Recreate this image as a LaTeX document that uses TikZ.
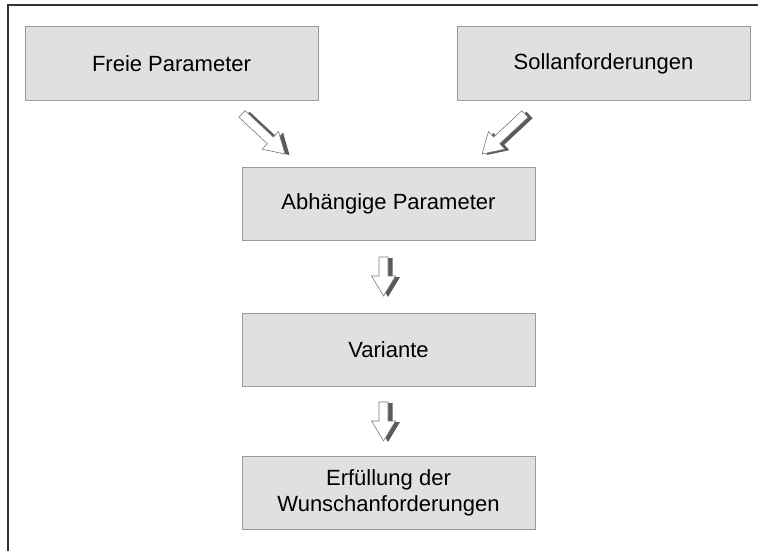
\documentclass[tikz,border=0pt]{standalone}
\usepackage{fontspec}
\setmainfont{Liberation Sans}
\usetikzlibrary{calc}
\definecolor{boxfill}{HTML}{E0E0E0}
\definecolor{boxline}{HTML}{9A9A9A}
\definecolor{frameline}{HTML}{333333}
\definecolor{arrowdark}{HTML}{5A5A5A}
\definecolor{arrowline}{HTML}{7A7A7A}
\tikzset{
  box/.style={draw=boxline, line width=1pt, fill=boxfill, minimum width=293pt, minimum height=73pt,
    inner sep=0pt, align=center, font=\fontsize{22}{26.5}\selectfont},
  pics/blockarrow/.style 2 args={code={
    \path[#2] (0,4.5) -- (#1-20,4.5) -- (#1-20,12) -- (#1,0) -- (#1-20,-12) -- (#1-20,-4.5) -- (0,-4.5) -- cycle;
  }},
}
\newcommand\bigarrow[2]{%
  \path let \p1=($(#2)-(#1)$), \n1={atan2(\y1,\x1)}, \n2={veclen(\x1,\y1)} in
    pic[rotate=\n1] at ($(#1)+(4.5pt,-1pt)$) {blockarrow={\n2}{fill=arrowdark}}
    pic[rotate=\n1] at (#1) {blockarrow={\n2}{fill=white, draw=arrowline, line width=0.6pt}};
}
\begin{document}
\begin{tikzpicture}[x=1pt, y=-1pt]
\useasboundingbox (0,0) rectangle (758,551);
\coordinate (ftl) at (8,5);
\coordinate (ftr) at (758,5);
\coordinate (fbl) at (8,551);
\draw[frameline, line width=1.3pt] (ftr) -- (ftl) -- (fbl);

\node[box] (frei) at (171.5,63.5) {Freie Parameter};
\node[box] (soll) at (603.5,63.5) {Sollanforderungen};
\node[box] (abh) at (388.5,203.5) {Abhängige Parameter};
\node[box] (var) at (388.5,349.5) {Variante};
\node[box] (erf) at (388.5,493) {Erfüllung der\\Wunschanforderungen};

\coordinate (a1s) at (242,114);
\coordinate (a1e) at (285,154);
\coordinate (a2s) at (525,114);
\coordinate (a2e) at (482,154);
\coordinate (a3s) at (383.5,257);
\coordinate (a3e) at (383.5,296);
\coordinate (a4s) at (383.5,402);
\coordinate (a4e) at (383.5,441);

\bigarrow{a1s}{a1e}
\bigarrow{a2s}{a2e}
\bigarrow{a3s}{a3e}
\bigarrow{a4s}{a4e}
\end{tikzpicture}
\end{document}
